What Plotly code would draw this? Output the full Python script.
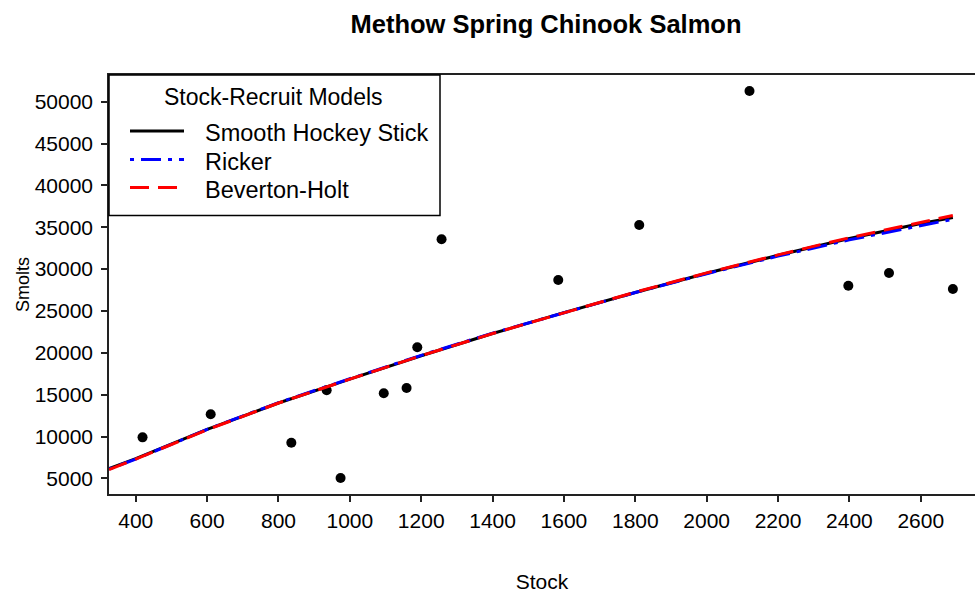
import plotly.graph_objects as go

# ---- data ----
stock_obs = [419, 610, 836, 935, 974, 1095, 1159, 1189, 1257, 1584, 1811, 2120, 2397, 2511, 2690]
smolts_obs = [9900, 12650, 9260, 15520, 5040, 15160, 15800, 20660, 33560, 28700, 35270, 51280, 28020, 29530, 27620]

stock_curve = [325, 400, 600, 800, 1000, 1200, 1400, 1600, 1800, 2000, 2200, 2400, 2600, 2690]
hockey = [6150, 7350, 10850, 14000, 16850, 19650, 22300, 24800, 27200, 29500, 31650, 33650, 35450, 36150]
ricker = [6100, 7300, 10850, 14050, 16900, 19700, 22350, 24800, 27200, 29450, 31550, 33500, 35250, 35950]
bevholt = [6050, 7300, 10800, 14000, 16850, 19650, 22300, 24800, 27250, 29550, 31700, 33750, 35550, 36400]

x_ticks = [400, 600, 800, 1000, 1200, 1400, 1600, 1800, 2000, 2200, 2400, 2600]
y_ticks = [5000, 10000, 15000, 20000, 25000, 30000, 35000, 40000, 45000, 50000]

model_names = ["Smooth Hockey Stick", "Ricker", "Beverton-Holt"]
model_colors = ["black", "blue", "red"]
model_dash = ["solid", "4px,7px,20px,7px", "19px,9px"]

FONT = "Liberation Sans, Arial, sans-serif"
W, H = 975, 593
L, R, T, B = 109, 0, 75, 99

fig = go.Figure()
fig.add_trace(go.Scatter(x=stock_obs, y=smolts_obs, mode="markers", name="Observed",
                         marker=dict(color="black", size=10), showlegend=False))
for name, ys, col, dash in zip(model_names, [hockey, ricker, bevholt], model_colors, model_dash):
    fig.add_trace(go.Scatter(x=stock_curve, y=ys, mode="lines", name=name,
                             line=dict(color=col, width=3, dash=dash), showlegend=False))

# ---- manual legend (pixel positions converted to paper coords) ----
pw, ph = W - L - R, H - T - B
def px(x): return (x - L) / pw
def py(y): return (H - B - y) / ph

shapes = [dict(type="rect", xref="paper", yref="paper", x0=px(109), x1=px(440), y0=py(215.5), y1=py(75),
               line=dict(color="black", width=1.5), fillcolor="white", layer="above")]
ann = [dict(text="Stock-Recruit Models", xref="paper", yref="paper", x=px(273.5), y=py(97),
            xanchor="center", yanchor="middle", showarrow=False, font=dict(size=23, family=FONT, color="black"))]
for i, (name, col, dash) in enumerate(zip(model_names, model_colors, model_dash)):
    yy = [131, 159.5, 187.5][i]
    shapes.append(dict(type="line", xref="paper", yref="paper", x0=px(130), x1=px(184), y0=py(yy), y1=py(yy),
                       line=dict(color=col, width=3, dash=dash), layer="above"))
    ann.append(dict(text=name, xref="paper", yref="paper", x=px(203), y=py(yy + 2), xanchor="left",
                    yanchor="middle", showarrow=False, font=dict(size=23.5, family=FONT, color="black")))

fig.update_layout(
    width=W, height=H,
    margin=dict(l=L, r=R, t=T, b=B, autoexpand=False),
    paper_bgcolor="white", plot_bgcolor="white",
    font=dict(family=FONT, color="black", size=21),
    title=dict(text="<b>Methow Spring Chinook Salmon</b>", x=546 / W, xref="container", xanchor="center",
               y=1 - 24 / H, yref="container", yanchor="middle", font=dict(size=25.5, family=FONT, color="black")),
    shapes=shapes, annotations=ann,
    showlegend=False,
)
fig.update_xaxes(range=[325, 2752], tickvals=x_ticks, tickformat="d", showgrid=False, zeroline=False,
                 automargin=False,
                 showline=True, linecolor="#222", linewidth=1.5, mirror=True,
                 ticks="outside", ticklen=6, tickwidth=1.5, tickcolor="#222", ticklabelstandoff=1,
                 title=dict(text="Stock", standoff=43, font=dict(size=21)))
fig.update_yaxes(range=[3130, 53190], tickvals=y_ticks, tickformat="d", showgrid=False, zeroline=False,
                 automargin=False,
                 showline=True, linecolor="#222", linewidth=1.5, mirror=False,
                 ticks="outside", ticklen=6, tickwidth=1.5, tickcolor="#222", ticklabelstandoff=4,
                 title=dict(text="Smolts", standoff=0, font=dict(size=18)))

fig.write_html("out.html", config={"displayModeBar": False})

# remove the browser's default 8px body margin so the figure sits at (0, 0)
with open("out.html", "r", encoding="utf-8") as f:
    html = f.read()
html = html.replace("<head>", "<head><style>html,body{margin:0;padding:0;overflow:hidden;}</style>", 1)
with open("out.html", "w", encoding="utf-8") as f:
    f.write(html)
